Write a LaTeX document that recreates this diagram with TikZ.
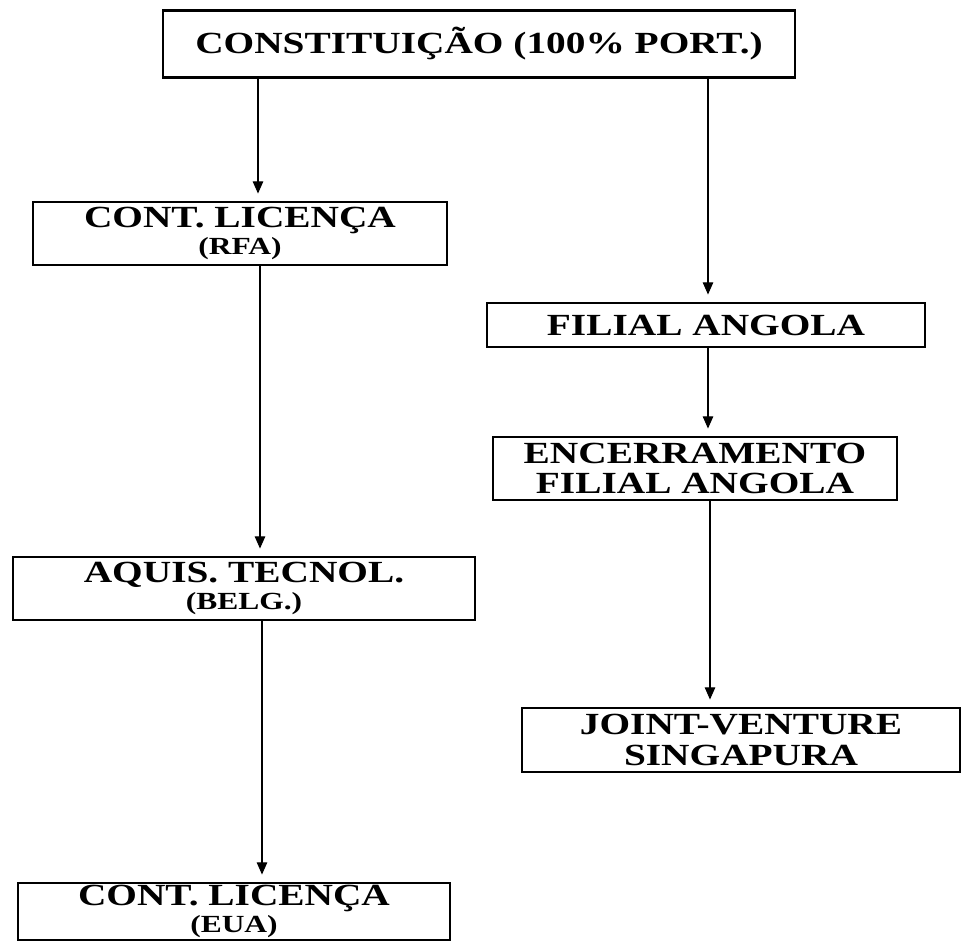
\documentclass[tikz,border=0pt]{standalone}
\usepackage{fontspec}
\usepackage{tikz}
\usetikzlibrary{positioning}
\usetikzlibrary{arrows.meta}
\usetikzlibrary{shapes}
\newfontfamily\boxfont{Liberation Serif}[FakeStretch=1.28]
\newcommand{\boxsub}[1]{{\fontsize{14}{14}\selectfont #1}}
\tikzset{
        boxnode/.style={align=center,inner sep=0pt},
        % Company stage boxes
        box_stage/.style={boxnode, rectangle, draw=black, line width=1.6pt, fill=white,
                font=\boxfont\bfseries\fontsize{17.5}{15}\selectfont},
        % Arrows between stages
        arrow_flow/.style={-{Triangle[length=7pt,width=6pt]}, line width=0.7pt, shorten >=4pt}
}
\begin{document}
\begin{tikzpicture}[x=0.02cm, y=-0.02cm]
            \useasboundingbox (0,0) rectangle (963,942);
            % left column
            \node[box_stage, minimum width=12.64cm, minimum height=1.34cm] (constituicao) at (479,44) {CONSTITUIÇÃO (100\% PORT.)};
            \node[box_stage, minimum width=8.28cm, minimum height=1.26cm] (licenca_rfa) at (240,233.5) {CONT. LICENÇA\\ \boxsub{(RFA)}};
            \node[box_stage, minimum width=9.24cm, minimum height=1.26cm] (aquisicao) at (244,588.5) {AQUIS. TECNOL.\\ \boxsub{(BELG.)}};
            \node[box_stage, minimum width=8.64cm, minimum height=1.14cm] (licenca_eua) at (234,911.5) {CONT. LICENÇA\\ \boxsub{(EUA)}};
            % right column
            \node[box_stage, minimum width=8.76cm, minimum height=0.88cm] (filial) at (706,325) {FILIAL ANGOLA};
            \node[box_stage, minimum width=8.08cm, minimum height=1.26cm] (encerramento) at (695,468.5) {ENCERRAMENTO\\[2.5pt] FILIAL ANGOLA};
            \node[box_stage, minimum width=8.76cm, minimum height=1.28cm] (joint_venture) at (741,740) {JOINT-VENTURE\\[2.5pt] SINGAPURA};

            \draw[arrow_flow] (constituicao.south -| 258,0) -- (licenca_rfa.north -| 258,0);
            \draw[arrow_flow] (licenca_rfa.south -| 260,0) -- (aquisicao.north -| 260,0);
            \draw[arrow_flow] (aquisicao.south -| 262,0) -- (licenca_eua.north -| 262,0);
            \draw[arrow_flow] (constituicao.south -| 708,0) -- (filial.north -| 708,0);
            \draw[arrow_flow] (filial.south -| 708,0) -- (encerramento.north -| 708,0);
            \draw[arrow_flow] (encerramento.south -| 710,0) -- (joint_venture.north -| 710,0);
        \end{tikzpicture}
\end{document}
